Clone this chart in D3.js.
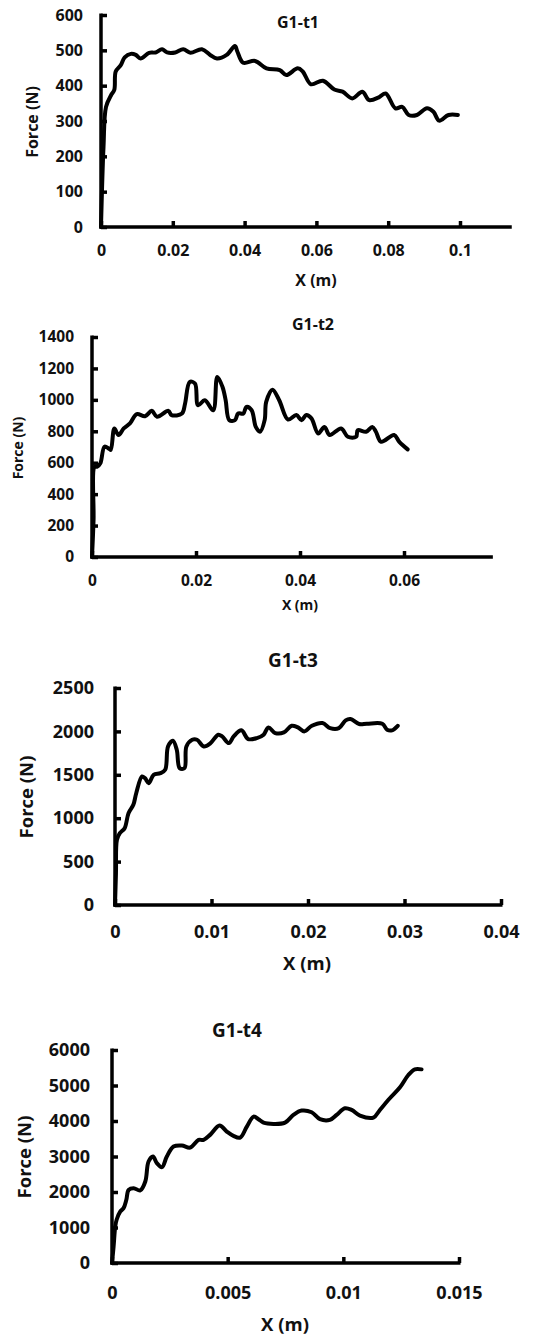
<!DOCTYPE html>
<html lang="en">
<head>
  <meta charset="UTF-8">
  <title>G1 force-displacement curves</title>
  <script src="https://d3js.org/d3.v7.min.js"></script>
  <style>
    body { margin: 0; padding: 0; background: #fff; }
    svg text { font-family: "Open Sans", sans-serif; font-weight: 700; fill: #111; }
  </style>
</head>
<body>
  <div id="chart"></div>
  <script>
    // data: displacement (m) and force (N)
    const t1X = [0, 0.0007, 0.0014, 0.0028, 0.0037, 0.0041, 0.0055, 0.0066, 0.0083, 0.0097, 0.011, 0.0134, 0.0152, 0.017, 0.0184, 0.0207, 0.0229, 0.0249, 0.0281, 0.0304, 0.0323, 0.035, 0.0373, 0.038, 0.0396, 0.0429, 0.0461, 0.0498, 0.0516, 0.0548, 0.0562, 0.0585, 0.0618, 0.065, 0.0673, 0.07, 0.0728, 0.0747, 0.0774, 0.0793, 0.082, 0.0839, 0.0857, 0.088, 0.0908, 0.0926, 0.0942, 0.0968, 0.0994];
    const t1F = [0, 227, 340, 373, 388, 440, 458, 480, 490, 487, 477, 493, 494, 503, 494, 494, 503, 493, 503, 487, 477, 487, 512, 496, 465, 470, 449, 444, 430, 449, 440, 404, 414, 389, 383, 364, 383, 359, 367, 378, 336, 340, 317, 317, 336, 326, 301, 317, 317];

    const t2X = [0, 0.0003, 0.0005, 0.001, 0.0016, 0.0024, 0.0032, 0.0036, 0.0043, 0.0051, 0.0061, 0.0073, 0.0086, 0.0102, 0.0115, 0.0125, 0.0147, 0.0153, 0.0173, 0.0179, 0.0188, 0.0198, 0.0204, 0.0217, 0.0233, 0.0241, 0.0251, 0.0257, 0.0264, 0.0275, 0.0281, 0.0291, 0.0297, 0.0307, 0.0315, 0.0323, 0.0332, 0.0335, 0.0347, 0.036, 0.0377, 0.0393, 0.0403, 0.0412, 0.0422, 0.0435, 0.0447, 0.0457, 0.0479, 0.0492, 0.0508, 0.0511, 0.0527, 0.0539, 0.0546, 0.0556, 0.0581, 0.0591, 0.0607];
    const t2F = [0, 237, 575, 575, 596, 702, 691, 681, 818, 776, 818, 850, 909, 896, 930, 892, 930, 903, 913, 977, 1114, 1104, 966, 998, 934, 1146, 1082, 998, 871, 871, 913, 913, 955, 934, 828, 797, 871, 987, 1065, 998, 875, 903, 871, 903, 882, 786, 828, 776, 818, 765, 765, 807, 797, 828, 797, 733, 776, 733, 685];

    const t3X = [0, 0.0001, 0.0002, 0.0005, 0.001, 0.0014, 0.0019, 0.0022, 0.0028, 0.0031, 0.0035, 0.004, 0.0047, 0.0052, 0.0055, 0.006, 0.0064, 0.0067, 0.0072, 0.0074, 0.008, 0.0085, 0.0092, 0.0099, 0.0107, 0.0111, 0.0118, 0.0123, 0.0131, 0.0138, 0.0147, 0.0154, 0.0159, 0.0166, 0.0175, 0.0183, 0.0189, 0.0196, 0.0204, 0.0215, 0.0223, 0.0232, 0.0239, 0.0244, 0.0253, 0.0261, 0.0277, 0.0282, 0.0287, 0.0293];
    const t3F = [0, 365, 750, 827, 885, 1058, 1154, 1288, 1481, 1462, 1404, 1500, 1519, 1558, 1827, 1892, 1788, 1577, 1577, 1827, 1904, 1904, 1827, 1865, 1962, 1942, 1865, 1942, 2012, 1912, 1923, 1962, 2046, 1981, 1988, 2065, 2050, 2000, 2065, 2096, 2038, 2038, 2127, 2142, 2085, 2088, 2088, 2019, 2012, 2065];

    const t4X = [0, 0.00007, 0.00014, 0.0002, 0.00036, 0.0005, 0.00062, 0.00072, 0.00094, 0.00122, 0.00144, 0.00158, 0.00177, 0.00194, 0.00216, 0.00237, 0.00266, 0.00302, 0.00338, 0.00374, 0.00396, 0.00424, 0.00465, 0.00496, 0.00525, 0.00554, 0.00583, 0.00612, 0.00633, 0.00655, 0.00698, 0.00748, 0.00784, 0.0082, 0.00863, 0.00899, 0.00942, 0.00971, 0.01007, 0.01036, 0.01072, 0.0113, 0.01158, 0.01201, 0.01245, 0.01281, 0.01309, 0.01338];
    const t4F = [0, 469, 1031, 1218, 1453, 1546, 1781, 2062, 2109, 2043, 2296, 2859, 3000, 2812, 2700, 3000, 3281, 3309, 3252, 3468, 3468, 3609, 3871, 3703, 3580, 3533, 3843, 4124, 4050, 3955, 3918, 3955, 4171, 4293, 4246, 4050, 4030, 4171, 4359, 4312, 4152, 4096, 4312, 4640, 4949, 5296, 5455, 5455];

    // tick labels of each panel
    const t1XTicks = [0, 0.02, 0.04, 0.06, 0.08, 0.1];
    const t1YTicks = [0, 100, 200, 300, 400, 500, 600];
    const t2XTicks = [0, 0.02, 0.04, 0.06];
    const t2YTicks = [0, 200, 400, 600, 800, 1000, 1200, 1400];
    const t3XTicks = [0, 0.01, 0.02, 0.03, 0.04];
    const t3YTicks = [0, 500, 1000, 1500, 2000, 2500];
    const t4XTicks = [0, 0.005, 0.01, 0.015];
    const t4YTicks = [0, 1000, 2000, 3000, 4000, 5000, 6000];

    const titles = ["G1-t1", "G1-t2", "G1-t3", "G1-t4"];

    // layout of each panel (pixels)
    const panels = [
      { x: t1X, y: t1F, xt: t1XTicks, yt: t1YTicks, xMax: 0.1, axisEnd: 0.114, yMax: 600,
        left: 101, right: 460, top: 15, bottom: 227, fs: 16, tfs: 16, lfs: 16,
        title: [298, 22], ylab: [32, 122], xlab: [316, 280], padY: 18, xTickY: 250 },
      { x: t2X, y: t2F, xt: t2XTicks, yt: t2YTicks, xMax: 0.06, axisEnd: 0.0768, yMax: 1400,
        left: 92, right: 404, top: 337, bottom: 557, fs: 15.5, tfs: 16, lfs: 14,
        title: [313, 324], ylab: [17, 448], xlab: [300, 604], padY: 18, xTickY: 580 },
      { x: t3X, y: t3F, xt: t3XTicks, yt: t3YTicks, xMax: 0.04, axisEnd: 0.04, yMax: 2500,
        left: 115, right: 501, top: 688, bottom: 905, fs: 18, tfs: 19, lfs: 18.5,
        title: [293, 660], ylab: [25, 797], xlab: [307, 962], padY: 21, xTickY: 932 },
      { x: t4X, y: t4F, xt: t4XTicks, yt: t4YTicks, xMax: 0.015, axisEnd: 0.015, yMax: 6000,
        left: 112, right: 459, top: 1050, bottom: 1263, fs: 18, tfs: 19, lfs: 18.5,
        title: [237, 1030], ylab: [23, 1157], xlab: [285, 1323], padY: 22, xTickY: 1293 }
    ];

    const svg = d3.select("#chart").append("svg")
      .attr("width", 541)
      .attr("height", 1338);

    panels.forEach((p, i) => {
      const x = d3.scaleLinear().domain([0, p.xMax]).range([p.left, p.right]);
      const y = d3.scaleLinear().domain([0, p.yMax]).range([p.bottom, p.top]);
      const g = svg.append("g");

      // x axis, drawn out to where the original stops
      const xAxis = g.append("g")
        .attr("transform", `translate(0,${p.bottom})`)
        .call(d3.axisBottom(x).tickValues(p.xt).tickSizeInner(-6).tickSizeOuter(0)
          .tickFormat(d => String(d)));
      xAxis.select(".domain").attr("d", `M${x(0) - 1.5},0H${x(p.axisEnd) + 1.5}`);
      xAxis.selectAll(".tick text")
        .attr("y", p.xTickY - p.bottom)
        .attr("dy", "0.36em");

      const yAxis = g.append("g")
        .attr("transform", `translate(${p.left},0)`)
        .call(d3.axisLeft(y).tickValues(p.yt).tickSizeInner(-6).tickSizeOuter(0)
          .tickPadding(p.padY).tickFormat(d => String(d)));
      yAxis.select(".domain").attr("d", `M0,${y(p.yMax) - 1.5}V${y(0) + 1.5}`);

      g.selectAll(".domain").attr("stroke", "#000").attr("stroke-width", 3.5);
      g.selectAll(".tick line").attr("stroke", "#000").attr("stroke-width", 3.5);
      g.selectAll(".tick text").attr("font-size", p.fs).attr("fill", "#111");

      // the curve
      const line = d3.line()
        .x((d, j) => x(p.x[j]))
        .y(d => y(d))
        .curve(d3.curveCatmullRom.alpha(0.5));

      g.append("path")
        .datum(p.y)
        .attr("fill", "none")
        .attr("stroke", "#000")
        .attr("stroke-width", 4)
        .attr("stroke-linejoin", "round")
        .attr("stroke-linecap", "round")
        .attr("d", line);

      g.append("text")
        .attr("x", p.title[0]).attr("y", p.title[1])
        .attr("text-anchor", "middle").attr("dominant-baseline", "central")
        .attr("font-size", p.tfs)
        .text(titles[i]);

      g.append("text")
        .attr("transform", `translate(${p.ylab[0]},${p.ylab[1]}) rotate(-90)`)
        .attr("text-anchor", "middle").attr("dominant-baseline", "central")
        .attr("font-size", p.lfs)
        .text("Force (N)");

      g.append("text")
        .attr("x", p.xlab[0]).attr("y", p.xlab[1])
        .attr("text-anchor", "middle").attr("dominant-baseline", "central")
        .attr("font-size", p.lfs)
        .text("X (m)");
    });
  </script>
</body>
</html>
